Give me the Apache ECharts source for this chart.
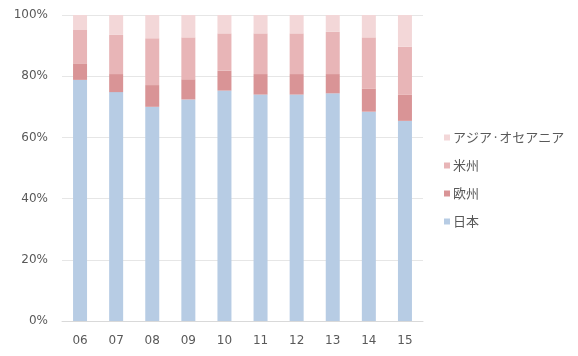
<!DOCTYPE html>
<html>
<head>
<meta charset="utf-8">
<script src="https://cdn.jsdelivr.net/npm/echarts@6/dist/echarts.min.js"></script>
<style>
  html, body { margin: 0; padding: 0; background: #fff; }
  #chart { width: 578px; height: 356px; }
</style>
</head>
<body>
<div id="chart"></div>
<script>
// Fiscal years (last two digits)
const years = ['06', '07', '08', '09', '10', '11', '12', '13', '14', '15'];

// Share of sales by region, percent
const japan    = [78.8, 74.8, 70.0, 72.4, 75.3, 74.0, 74.0, 74.4, 68.4, 65.4];
const europe   = [5.4, 5.9, 7.1, 6.6, 6.5, 6.7, 6.7, 6.3, 7.6, 8.5];
const americas = [10.9, 12.8, 15.3, 13.7, 12.2, 13.3, 13.3, 13.8, 16.7, 15.7];
const asiaOce  = [4.9, 6.5, 7.6, 7.3, 6.0, 6.0, 6.0, 5.5, 7.3, 10.4];

const names = ['日本', '欧州', '米州', 'アジア·オセアニア'];
const colors = ['#b7cce4', '#d99496', '#e8b5b7', '#f3d7d8'];
const values = [japan, europe, americas, asiaOce];

const chart = echarts.init(document.getElementById('chart'));
const fontAxis = 'DejaVu Sans, sans-serif';

chart.setOption({
  animation: false,
  grid: { left: 62, right: 155, top: 15, bottom: 35 },
  legend: {
    orient: 'vertical',
    left: 439,
    top: 126,
    itemWidth: 6,
    itemHeight: 6,
    itemGap: 15,
    icon: 'rect',
    data: ['アジア·オセアニア', '米州', '欧州', '日本'],
    textStyle: { color: '#595959', fontSize: 13, fontFamily: 'Noto Sans CJK JP', padding: [0, 0, 0, -2] }
  },
  xAxis: {
    type: 'category',
    data: years,
    axisLine: { lineStyle: { color: '#d9d9d9' } },
    axisTick: { show: false },
    axisLabel: { color: '#595959', fontSize: 12, fontFamily: fontAxis, margin: 14 }
  },
  yAxis: {
    type: 'value',
    min: 0,
    max: 100,
    interval: 20,
    axisLine: { show: false },
    axisTick: { show: false },
    splitLine: { lineStyle: { color: '#e6e6e6' } },
    axisLabel: { color: '#595959', fontSize: 12, fontFamily: fontAxis, margin: 14, formatter: '{value}%' }
  },
  series: names.map((n, i) => ({
    name: n,
    type: 'bar',
    stack: 'share',
    barWidth: 14,
    itemStyle: { color: colors[i] },
    data: values[i]
  }))
});
</script>
</body>
</html>
